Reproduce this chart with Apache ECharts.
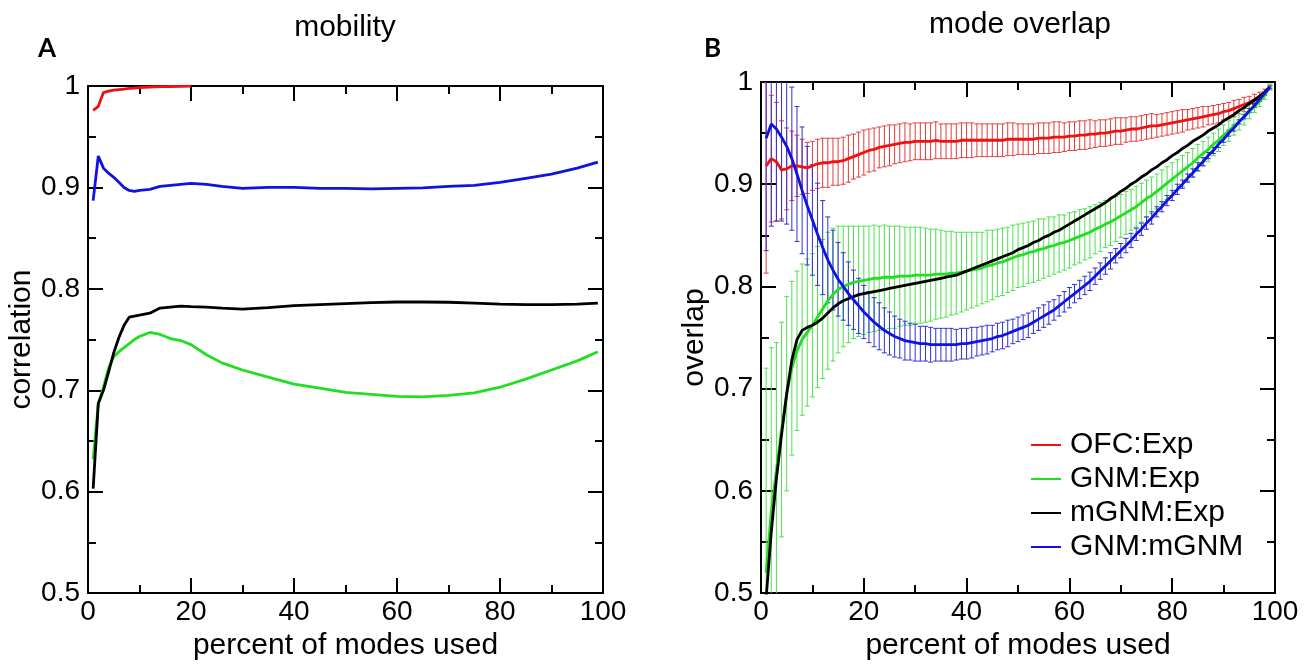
<!DOCTYPE html>
<html>
<head>
<meta charset="utf-8">
<script src="https://cdn.jsdelivr.net/npm/echarts@6/dist/echarts.min.js"></script>
<style>
  html, body { margin: 0; padding: 0; background: #fff; }
  #main { width: 1313px; height: 666px; }
</style>
</head>
<body>
<div id="main"></div>
<script>
// panel A: mobility correlation
var aX = [1,2,3,4,5,6,7,8,9,10,12,14,16,18,20,23,26,30,35,40,45,50,55,60,65,70,75,80,85,90,95,99];
var aOfcX = [1,2,3,4,5,6,7,8,9,10,12,14,16,18,20];
var aOfc = [0.976,0.980,0.9935,0.995,0.996,0.9965,0.997,0.9977,0.998,0.9985,0.999,0.9993,0.9995,0.9997,0.9998];
var aGnm = [0.632,0.687,0.703,0.722,0.733,0.738,0.742,0.746,0.750,0.753,0.757,0.755,0.751,0.749,0.745,0.735,0.727,0.720,0.713,0.706,0.702,0.698,0.696,0.694,0.6935,0.695,0.6975,0.703,0.711,0.720,0.729,0.738];
var aMgnm = [0.603,0.687,0.700,0.718,0.737,0.752,0.764,0.772,0.773,0.774,0.776,0.781,0.782,0.783,0.7825,0.782,0.781,0.780,0.7815,0.7834,0.7845,0.7855,0.7865,0.787,0.787,0.7868,0.786,0.785,0.7845,0.7845,0.785,0.786];
var aGnmMgnm = [0.887,0.931,0.919,0.914,0.910,0.905,0.900,0.897,0.896,0.897,0.898,0.901,0.902,0.903,0.904,0.903,0.901,0.899,0.900,0.900,0.899,0.899,0.8985,0.899,0.8995,0.901,0.902,0.905,0.909,0.913,0.919,0.925];

// panel B: mode overlap, x = 1..99 percent
var bOfc = [0.918,0.925,0.922,0.914,0.915,0.918,0.918,0.917,0.916,0.918,
  0.920,0.921,0.921,0.922,0.922,0.923,0.925,0.927,0.929,0.931,
  0.933,0.934,0.936,0.937,0.938,0.939,0.940,0.941,0.941,0.942,
  0.942,0.942,0.942,0.943,0.942,0.942,0.942,0.942,0.943,0.943,
  0.943,0.943,0.943,0.943,0.943,0.943,0.943,0.944,0.944,0.944,
  0.944,0.944,0.944,0.945,0.945,0.945,0.946,0.946,0.946,0.947,
  0.947,0.948,0.948,0.949,0.949,0.950,0.950,0.951,0.952,0.952,
  0.953,0.954,0.954,0.955,0.956,0.957,0.957,0.958,0.959,0.960,
  0.961,0.962,0.963,0.964,0.965,0.966,0.967,0.968,0.969,0.971,
  0.972,0.974,0.976,0.978,0.980,0.983,0.986,0.990,0.995];
var bOfcErr = [0.105,0.062,0.058,0.048,0.040,0.034,0.030,0.027,0.025,0.024,
  0.024,0.024,0.024,0.023,0.023,0.023,0.023,0.022,0.022,0.022,
  0.021,0.021,0.020,0.020,0.020,0.019,0.019,0.019,0.018,0.018,
  0.018,0.018,0.018,0.018,0.017,0.017,0.017,0.017,0.017,0.017,
  0.017,0.016,0.016,0.016,0.016,0.016,0.016,0.016,0.016,0.015,
  0.015,0.015,0.015,0.015,0.015,0.015,0.015,0.015,0.014,0.014,
  0.014,0.014,0.014,0.014,0.013,0.013,0.013,0.013,0.013,0.013,
  0.012,0.012,0.012,0.012,0.012,0.012,0.011,0.011,0.011,0.011,
  0.011,0.011,0.010,0.010,0.010,0.010,0.009,0.009,0.009,0.008,
  0.008,0.008,0.007,0.007,0.006,0.005,0.004,0.003,0.002];
var bGnm = [0.520,0.580,0.620,0.660,0.695,0.720,0.737,0.748,0.755,0.762,
  0.770,0.778,0.786,0.792,0.797,0.800,0.802,0.804,0.805,0.806,
  0.807,0.808,0.808,0.809,0.809,0.809,0.810,0.810,0.810,0.811,
  0.811,0.811,0.811,0.812,0.812,0.812,0.813,0.813,0.814,0.815,
  0.816,0.817,0.818,0.820,0.821,0.823,0.824,0.826,0.828,0.830,
  0.831,0.833,0.834,0.836,0.837,0.839,0.840,0.842,0.843,0.845,
  0.847,0.849,0.851,0.853,0.856,0.858,0.861,0.863,0.866,0.869,
  0.872,0.875,0.878,0.882,0.886,0.889,0.893,0.897,0.901,0.905,
  0.909,0.913,0.917,0.921,0.926,0.930,0.934,0.939,0.943,0.948,
  0.952,0.957,0.961,0.966,0.971,0.976,0.981,0.987,0.995];
var bGnmErr = [0.200,0.160,0.125,0.105,0.095,0.085,0.078,0.074,0.072,0.070,
  0.069,0.068,0.067,0.065,0.062,0.059,0.057,0.055,0.054,0.053,
  0.052,0.052,0.051,0.051,0.050,0.050,0.049,0.048,0.048,0.047,
  0.047,0.046,0.045,0.044,0.043,0.042,0.041,0.040,0.039,0.038,
  0.037,0.036,0.035,0.035,0.034,0.033,0.033,0.032,0.032,0.031,
  0.031,0.030,0.030,0.030,0.029,0.029,0.028,0.028,0.027,0.027,
  0.026,0.026,0.025,0.025,0.024,0.024,0.023,0.023,0.022,0.021,
  0.021,0.020,0.020,0.019,0.018,0.018,0.017,0.017,0.016,0.016,
  0.015,0.015,0.014,0.014,0.013,0.012,0.012,0.011,0.011,0.010,
  0.010,0.009,0.008,0.008,0.007,0.006,0.005,0.004,0.003];
var bMgnm = [0.495,0.560,0.612,0.655,0.695,0.728,0.748,0.757,0.760,0.762,
  0.765,0.769,0.774,0.779,0.783,0.786,0.788,0.790,0.792,0.793,
  0.794,0.795,0.796,0.797,0.798,0.799,0.800,0.801,0.802,0.803,
  0.804,0.805,0.806,0.807,0.808,0.809,0.810,0.811,0.813,0.815,
  0.817,0.819,0.821,0.823,0.825,0.827,0.829,0.831,0.833,0.836,
  0.838,0.840,0.843,0.845,0.848,0.850,0.853,0.855,0.858,0.861,
  0.864,0.867,0.870,0.873,0.876,0.879,0.882,0.886,0.889,0.893,
  0.896,0.900,0.903,0.907,0.910,0.914,0.917,0.921,0.924,0.928,
  0.931,0.935,0.938,0.942,0.945,0.948,0.952,0.955,0.958,0.962,
  0.965,0.968,0.972,0.975,0.979,0.982,0.986,0.990,0.995];
var bGnmMgnm = [0.945,0.959,0.954,0.946,0.937,0.925,0.910,0.894,0.879,0.865,
  0.851,0.838,0.826,0.816,0.807,0.800,0.793,0.787,0.781,0.775,
  0.770,0.765,0.761,0.757,0.754,0.751,0.749,0.747,0.746,0.745,
  0.744,0.744,0.743,0.743,0.743,0.743,0.743,0.743,0.744,0.744,
  0.745,0.746,0.747,0.748,0.749,0.751,0.752,0.754,0.756,0.758,
  0.760,0.762,0.765,0.768,0.771,0.774,0.777,0.781,0.785,0.789,
  0.793,0.797,0.801,0.805,0.810,0.815,0.820,0.825,0.830,0.835,
  0.840,0.845,0.851,0.856,0.862,0.867,0.873,0.878,0.884,0.889,
  0.895,0.900,0.906,0.911,0.917,0.922,0.928,0.933,0.939,0.944,
  0.950,0.955,0.961,0.966,0.972,0.977,0.983,0.989,0.995];
var bGnmMgnmErr = [0.110,0.100,0.090,0.082,0.076,0.070,0.066,0.062,0.058,0.054,
  0.050,0.046,0.042,0.039,0.036,0.033,0.031,0.029,0.027,0.026,
  0.025,0.024,0.023,0.022,0.021,0.020,0.019,0.019,0.018,0.018,
  0.017,0.017,0.017,0.016,0.016,0.016,0.016,0.015,0.015,0.015,
  0.015,0.014,0.014,0.014,0.013,0.013,0.013,0.013,0.012,0.012,
  0.012,0.012,0.011,0.011,0.011,0.011,0.010,0.010,0.010,0.010,
  0.009,0.009,0.009,0.009,0.008,0.008,0.008,0.008,0.007,0.007,
  0.007,0.007,0.006,0.006,0.006,0.006,0.005,0.005,0.005,0.005,
  0.005,0.004,0.004,0.004,0.004,0.004,0.003,0.003,0.003,0.003,
  0.003,0.003,0.002,0.002,0.002,0.002,0.002,0.001,0.001];

var names = ['OFC:Exp', 'GNM:Exp', 'mGNM:Exp', 'GNM:mGNM'];
var RED = '#ee1111', GREEN = '#22dd22', BLACK = '#000000', BLUE = '#1212e0';
var FONT = 'Liberation Sans';

var bX = [];
for (var i = 1; i <= 99; i++) bX.push(i);

function pairs(xs, ys) {
  return ys.map(function (v, i) { return [xs[i], v]; });
}
function bars(mean, err) {
  return mean.map(function (m, i) { return [bX[i], m - err[i], m + err[i]]; });
}

// xmgrace style frame: ticks inside on all four sides
function xAx(grid, pos, label, name) {
  return {
    type: 'value', gridIndex: grid, position: pos, min: 0, max: 100, interval: 20,
    name: name, nameLocation: 'middle', nameGap: 34,
    nameTextStyle: { fontFamily: FONT, fontSize: 30, color: '#000' },
    axisLine: { onZero: false, lineStyle: { color: '#000', width: 2 } },
    axisTick: { inside: true, length: 15, lineStyle: { color: '#000', width: 2 } },
    minorTick: { show: true, splitNumber: 2, length: 8, lineStyle: { color: '#000', width: 2 } },
    axisLabel: { show: label, margin: 5, fontFamily: FONT, fontSize: 28, color: '#000' },
    splitLine: { show: false }
  };
}
function yAx(grid, pos, label, name, gap) {
  return {
    type: 'value', gridIndex: grid, position: pos, min: 0.5, max: 1, interval: 0.1,
    name: name, nameLocation: 'middle', nameGap: gap,
    nameTextStyle: { fontFamily: FONT, fontSize: 30, color: '#000' },
    axisLine: { onZero: false, lineStyle: { color: '#000', width: 2 } },
    axisTick: { inside: true, length: 15, lineStyle: { color: '#000', width: 2 } },
    minorTick: { show: true, splitNumber: 2, length: 8, lineStyle: { color: '#000', width: 2 } },
    axisLabel: {
      show: label, margin: 8, fontFamily: FONT, fontSize: 28, color: '#000',
      formatter: function (v) { return v >= 0.999 ? '1' : v.toFixed(1); }
    },
    splitLine: { show: false }
  };
}

function line(name, color, data, xi, yi) {
  return {
    type: 'line', name: name, data: data, xAxisIndex: xi, yAxisIndex: yi,
    showSymbol: false, symbol: 'none', z: 4, clip: true,
    lineStyle: { color: color, width: 2.8 }, itemStyle: { color: color }
  };
}

function errItem(params, api) {
  var x = api.value(0);
  var lo = api.coord([x, api.value(1)]);
  var hi = api.coord([x, api.value(2)]);
  var hw = 2.5;
  var st = { stroke: api.visual('color'), lineWidth: 1 };
  return {
    type: 'group',
    children: [
      { type: 'line', shape: { x1: lo[0], y1: lo[1], x2: hi[0], y2: hi[1] }, style: st },
      { type: 'line', shape: { x1: lo[0] - hw, y1: lo[1], x2: lo[0] + hw, y2: lo[1] }, style: st },
      { type: 'line', shape: { x1: hi[0] - hw, y1: hi[1], x2: hi[0] + hw, y2: hi[1] }, style: st }
    ]
  };
}
function errs(color, data) {
  return {
    type: 'custom', data: data, xAxisIndex: 2, yAxisIndex: 2, z: 3, clip: true,
    renderItem: errItem, itemStyle: { color: color }, silent: true
  };
}

var myChart = echarts.init(document.getElementById('main'));
var option = {
  animation: false,
  backgroundColor: '#fff',
  grid: [
    { left: 88, top: 86, width: 515, height: 517 },
    { left: 761, top: 82, width: 514, height: 519 }
  ],
  xAxis: [
    xAx(0, 'bottom', true, 'percent of modes used'),
    xAx(0, 'top', false, ''),
    xAx(1, 'bottom', true, 'percent of modes used'),
    xAx(1, 'top', false, '')
  ],
  yAxis: [
    yAx(0, 'left', true, 'correlation', 40),
    yAx(0, 'right', false, '', 0),
    yAx(1, 'left', true, 'overlap', 43),
    yAx(1, 'right', false, '', 0)
  ],
  legend: {
    data: names, orient: 'vertical', left: 1026, top: 425, itemGap: 4,
    icon: 'rect', itemWidth: 30, itemHeight: 2,
    textStyle: { fontFamily: FONT, fontSize: 30, color: '#000', padding: [0, 0, 0, 4] },
    selectedMode: false
  },
  graphic: [
    { type: 'text', left: 38, top: 36, style: { text: 'A', font: 'bold 26px Lato', fill: '#000' } },
    { type: 'text', left: 704, top: 36, style: { text: 'B', font: 'bold 26px Lato', fill: '#000' } },
    { type: 'text', x: 345, y: 28, style: { text: 'mobility', font: '30px "Liberation Sans"', fill: '#000', textAlign: 'center', textVerticalAlign: 'middle' } },
    { type: 'text', x: 1020, y: 25, style: { text: 'mode overlap', font: '30px "Liberation Sans"', fill: '#000', textAlign: 'center', textVerticalAlign: 'middle' } }
  ],
  series: [
    line(names[0], RED, pairs(aOfcX, aOfc), 0, 0),
    line(names[1], GREEN, pairs(aX, aGnm), 0, 0),
    line(names[2], BLACK, pairs(aX, aMgnm), 0, 0),
    line(names[3], BLUE, pairs(aX, aGnmMgnm), 0, 0),
    errs('#e43c3c', bars(bOfc, bOfcErr)),
    errs('#4ee04e', bars(bGnm, bGnmErr)),
    errs('#3030d8', bars(bGnmMgnm, bGnmMgnmErr)),
    line(names[0], RED, pairs(bX, bOfc), 2, 2),
    line(names[1], GREEN, pairs(bX, bGnm), 2, 2),
    line(names[2], BLACK, pairs(bX, bMgnm), 2, 2),
    line(names[3], BLUE, pairs(bX, bGnmMgnm), 2, 2)
  ]
};
myChart.setOption(option);
</script>
</body>
</html>
